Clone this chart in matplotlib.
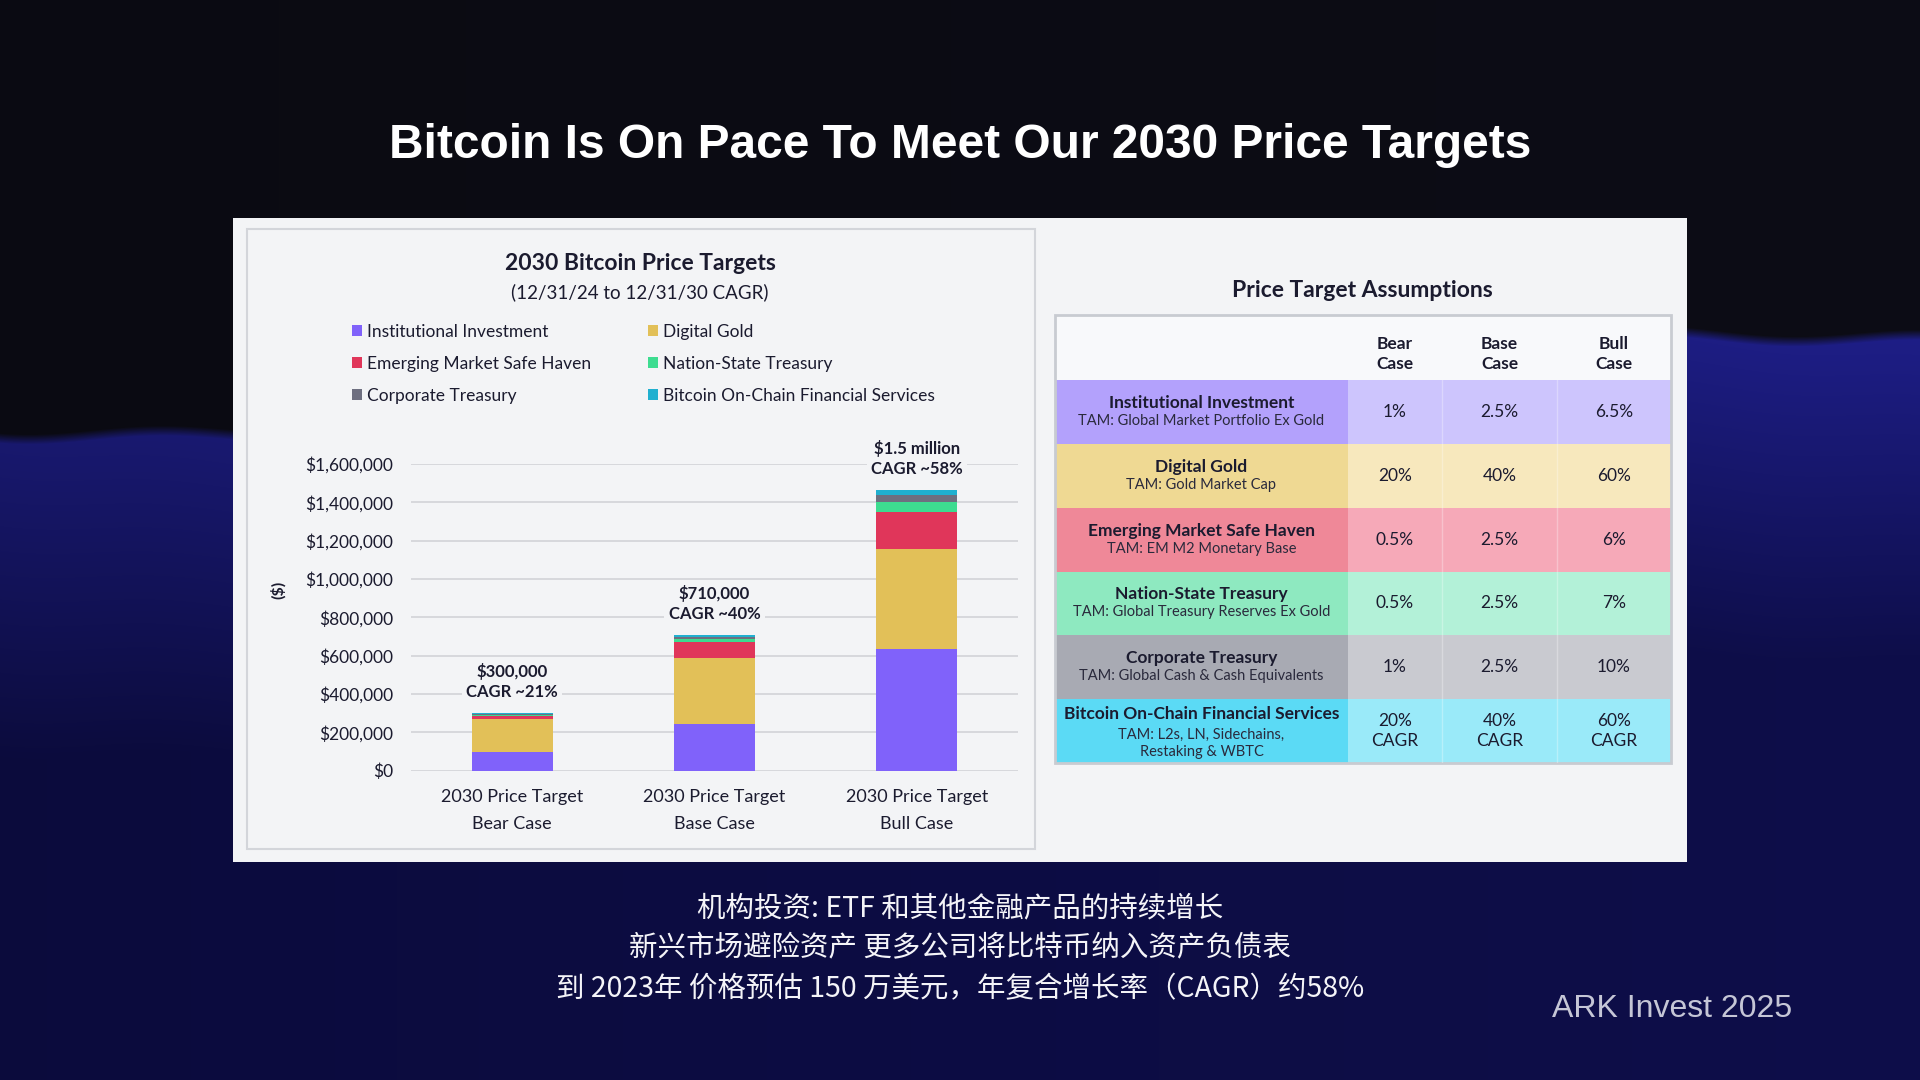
import numpy as np
import matplotlib
matplotlib.use("Agg")
import matplotlib.pyplot as plt
from matplotlib.patches import Rectangle
from matplotlib.ticker import FuncFormatter

plt.rcParams['font.family'] = ['Lato', 'DejaVu Sans']

# ---- data ----
cases = ["2030 Price Target\nBear Case", "2030 Price Target\nBase Case", "2030 Price Target\nBull Case"]
institutional = [97000, 243000, 635000]
digital_gold = [174000, 347000, 520000]
em_safe_haven = [16000, 80000, 196000]
nation_state = [4000, 15000, 51000]
corporate = [3000, 10000, 35000]
onchain = [6000, 15000, 28000]
bar_notes = ["$300,000\nCAGR ~21%", "$710,000\nCAGR ~40%", "$1.5 million\nCAGR ~58%"]

segment_names = ["Institutional Investment", "Digital Gold", "Emerging Market Safe Haven",
                 "Nation-State Treasury", "Corporate Treasury", "Bitcoin On-Chain Financial Services"]
segment_colors = ["#8062fa", "#e2c058", "#e0365a", "#3ddc90", "#6e6f80", "#20b0d0"]

row_tams = ["TAM: Global Market Portfolio Ex Gold", "TAM: Gold Market Cap", "TAM: EM M2 Monetary Base",
            "TAM: Global Treasury Reserves Ex Gold", "TAM: Global Cash & Cash Equivalents",
            "TAM: L2s, LN, Sidechains,\nRestaking & WBTC"]
col_headers = ["Bear\nCase", "Base\nCase", "Bull\nCase"]
bear_vals = ["1%", "20%", "0.5%", "0.5%", "1%", "20%\nCAGR"]
base_vals = ["2.5%", "40%", "2.5%", "2.5%", "2.5%", "40%\nCAGR"]
bull_vals = ["6.5%", "60%", "6%", "7%", "10%", "60%\nCAGR"]
label_cell_colors = ["#b3a1fc", "#efd993", "#ef8898", "#8ee9c0", "#a8aab3", "#5bdaf5"]
value_cell_colors = ["#cdc5fd", "#f7e8bd", "#f6a9b8", "#b3f1d8", "#c9cad0", "#9aeaf9"]

W, H = 1920, 1080
PANEL = "#f3f4f6"
INK = "#1b1b2f"


def fx(x):
	return x / W


def fy(y):
	return 1 - y / H


fig = plt.figure(figsize=(19.2, 10.8), dpi=100)

# ---- background: dark top, blue wave band lower down ----
yy, xx = np.mgrid[0:H, 0:W].astype(float)
wave = 432 - 95 * xx / W + 14 * np.sin(xx / 150.0) + 6 * np.sin(xx / 47.0 + 1.3)
d = yy - wave
edge = np.clip(d / 10 + 0.5, 0, 1)[..., None]
t = np.clip(d / 320, 0, 1)[..., None]
dark = np.array([13, 13, 22]) / 255
blue_hi = np.array([30, 30, 135]) / 255
blue_lo = np.array([14, 14, 74]) / 255
band = blue_hi * (1 - t) + blue_lo * t
img = dark * (1 - edge) + band * edge
img = img * (0.82 + 0.18 * xx / W)[..., None]
bg = fig.add_axes([0, 0, 1, 1], zorder=-10)
bg.imshow(np.clip(img, 0, 1), aspect="auto", extent=(0, 1, 0, 1))
bg.axis("off")

# slide title
fig.text(0.5, fy(146), "Bitcoin Is On Pace To Meet Our 2030 Price Targets", color="white",
		 fontsize=34.5, fontweight="bold", family=["Liberation Sans", "DejaVu Sans"], ha="center", va="center")

# light panel + chart frame
fig.add_artist(Rectangle((fx(233), fy(862)), (1687 - 233) / W, (862 - 218) / H,
						 transform=fig.transFigure, fc=PANEL, ec="none", zorder=1))
fig.add_artist(Rectangle((fx(247), fy(849)), (1035 - 247) / W, (849 - 229) / H,
						 transform=fig.transFigure, fc=PANEL, ec="#d3d5da", lw=1.5, zorder=1.5))

fig.text(fx(640), fy(264), "2030 Bitcoin Price Targets", fontsize=16.5, fontweight="bold",
		 color=INK, ha="center", va="center")
fig.text(fx(640), fy(292), "(12/31/24 to 12/31/30 CAGR)", fontsize=13.5, color=INK, ha="center", va="center")
fig.text(fx(278), fy(590), "($)", fontsize=11.5, fontweight="bold", color=INK, rotation=90,
		 ha="center", va="center")

# ---- stacked bar chart ----
ax = fig.add_axes([fx(411), fy(770.6), 607 / W, 306.6 / H], zorder=5)
ax.patch.set_alpha(0)
x = np.arange(len(cases))
series = [institutional, digital_gold, em_safe_haven, nation_state, corporate, onchain]
bottom = np.zeros(len(cases))
handles = []
for vals, name, color in zip(series, segment_names, segment_colors):
	b = ax.bar(x, vals, width=0.4, bottom=bottom, color=color, label=name, zorder=3)
	handles.append(b)
	bottom += np.array(vals)

for i, note in enumerate(bar_notes):
	ax.annotate(note, xy=(x[i], bottom[i]), xytext=(0, 22.5), textcoords="offset points",
				ha="center", va="center", fontsize=12, fontweight="bold", color=INK, linespacing=1.3,
				zorder=6, bbox=dict(fc=PANEL, ec="none", pad=3))

ax.set_xlim(-0.5, 2.5)
ax.set_ylim(0, 1600000)
ax.set_yticks(np.arange(0, 1600001, 200000))
ax.yaxis.set_major_formatter(FuncFormatter(lambda v, p: f"${v:,.0f}"))
ax.set_xticks(x, labels=cases)
ax.tick_params(axis="y", length=0, pad=13, labelsize=12.5, labelcolor=INK)
ax.tick_params(axis="x", length=0, pad=13, labelsize=13, labelcolor=INK)
for lbl in ax.get_xticklabels():
	lbl.set_linespacing(1.9)
ax.set_axisbelow(True)
ax.yaxis.grid(True, color="#d4d6da", lw=1.3)
for s in ax.spines.values():
	s.set_visible(False)

order = [0, 2, 4, 1, 3, 5]
ax.legend([handles[k] for k in order], [segment_names[k] for k in order], ncol=2,
		  loc="upper left", bbox_to_anchor=(fx(352), fy(324)), bbox_transform=fig.transFigure,
		  frameon=False, fontsize=12.5, handlelength=0.58, handleheight=0.58, handletextpad=0.3,
		  columnspacing=3.25, labelspacing=0.92, borderpad=0, borderaxespad=0, labelcolor=INK)

# ---- assumptions table ----
fig.text(fx(1362), fy(290), "Price Target Assumptions", fontsize=16.5, fontweight="bold",
		 color=INK, ha="center", va="center")

tab = fig.add_axes([fx(1055), fy(763), 616 / W, 448 / H], zorder=5)
tab.set_xlim(0, 616)
tab.set_ylim(448, 0)
tab.axis("off")
col_edges = [0, 293, 387, 502, 616]
header_h = 65
row_h = (448 - header_h) / len(segment_names)

tab.add_patch(Rectangle((0, 0), 616, header_h, fc="#f8f9fb", ec="none"))
for j, hdr in enumerate(col_headers):
	cx = (col_edges[j + 1] + col_edges[j + 2]) / 2
	tab.text(cx, 39, hdr, ha="center", va="center", fontsize=12.5, fontweight="bold",
			 color=INK, linespacing=1.3)

value_cols = [bear_vals, base_vals, bull_vals]
for i, name in enumerate(segment_names):
	y0 = header_h + i * row_h
	yc = y0 + row_h / 2
	tab.add_patch(Rectangle((0, y0), col_edges[1], row_h, fc=label_cell_colors[i], ec="none"))
	tab.add_patch(Rectangle((col_edges[1], y0), 616 - col_edges[1], row_h, fc=value_cell_colors[i], ec="none"))
	n = row_tams[i].count("\n") + 1
	tab.text(col_edges[1] / 2, yc - 9 - 8 * (n - 1), name, ha="center", va="center", fontsize=12.5,
			 fontweight="bold", color=INK)
	tab.text(col_edges[1] / 2, yc + 9 + 3 * (n - 1), row_tams[i], ha="center", va="center", fontsize=10.5,
			 color="#2a2a3c", linespacing=1.3)
	for j, vals in enumerate(value_cols):
		cx = (col_edges[j + 1] + col_edges[j + 2]) / 2
		tab.text(cx, yc, vals[i], ha="center", va="center", fontsize=12.5, color=INK, linespacing=1.25)

for xe in col_edges[2:4]:
	tab.plot([xe, xe], [header_h, 448], color="white", lw=1, alpha=0.3)
tab.add_patch(Rectangle((0, 0), 616, 448, fill=False, ec="#c8cbd1", lw=2, clip_on=False))

# ---- caption ----
captions = ["机构投资: ETF 和其他金融产品的持续增长",
			"新兴市场避险资产 更多公司将比特币纳入资产负债表",
			"到 2023年 价格预估 150 万美元，年复合增长率（CAGR）约58%"]
for k, line in enumerate(captions):
	fig.text(0.5, fy(908 + 40.5 * k), line, color="#f4f4f8", fontsize=20.5, fontweight="medium",
			 family=["Noto Sans CJK SC", "DejaVu Sans"], ha="center", va="center")

fig.text(fx(1672), fy(1009), "ARK Invest 2025", color="#c5c6d6", fontsize=23,
		 family=["Liberation Sans", "DejaVu Sans"], ha="center", va="center")

fig.savefig("out.png", dpi=100)
